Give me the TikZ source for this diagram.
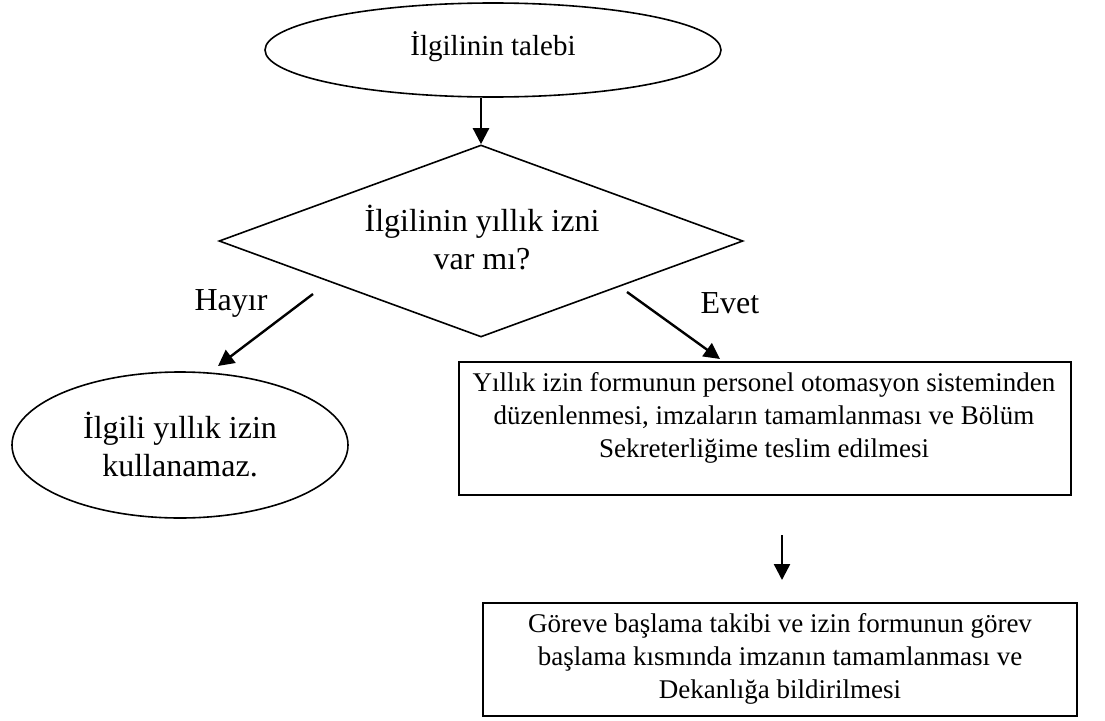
\documentclass[tikz,border=0pt]{standalone}
\usepackage{fontspec}
\setmainfont{Liberation Serif}
\usetikzlibrary{shapes.geometric,arrows.meta}
\begin{document}
\begin{tikzpicture}[x=1pt,y=-1pt,
  shp/.style={draw=black,line width=1.6pt,inner sep=0pt,align=center},
  boxshp/.style={draw=black,line width=2pt,inner sep=0pt},
  arr/.style={line width=2.4pt,-{Triangle[length=16pt,width=16pt]}},
  bigtxt/.style={font=\fontsize{32}{38}\selectfont},
  boxtxt/.style={font=\fontsize{27}{33}\selectfont,align=center,inner sep=0pt}]
\useasboundingbox (0,0) rectangle (1105,720);
\node[shp,ellipse,minimum width=456pt,minimum height=94pt] (start) at (493,50) {};
\node[inner sep=0pt,font=\fontsize{29}{35}\selectfont] (startt) at (493,47) {İlgilinin talebi};
\node[shp,diamond,shape aspect=2.73,minimum width=524pt,minimum height=192pt] (q) at (481,241) {};
\node[bigtxt,align=center,inner sep=0pt] (qt) at (482,238) {İlgilinin yıllık izni\\var mı?};
\node[shp,ellipse,minimum width=336pt,minimum height=146pt,bigtxt] (no) at (180,445) {İlgili yıllık izin\\kullanamaz.};
\node[boxshp,rectangle,minimum width=612pt,minimum height=133pt,anchor=north west] (box1) at (458,361) {};
\node[boxtxt,anchor=north] (t1) at (764,372) {Yıllık izin formunun personel otomasyon sisteminden\\düzenlenmesi, imzaların tamamlanması ve Bölüm\\Sekreterliğime teslim edilmesi};
\node[boxshp,rectangle,minimum width=594pt,minimum height=113pt,anchor=north west] (box2) at (482,602) {};
\node[boxtxt] (t2) at ([yshift=1pt]box2.center) {Göreve başlama takibi ve izin formunun görev\\başlama kısmında imzanın tamamlanması ve\\Dekanlığa bildirilmesi};
\node[bigtxt,inner sep=0pt] (hayir) at (231,303) {Hayır};
\node[bigtxt,inner sep=0pt] (evet) at (730,303) {Evet};
\coordinate (h1) at (313,294);
\coordinate (h2) at (218,366);
\coordinate (e1) at (627,292);
\coordinate (e2) at (720,359);
\coordinate (d1) at (782,535);
\coordinate (d2) at (782,580);
\draw[arr] (q.north |- start.south) -- (q.north);
\draw[arr] (h1) -- (h2);
\draw[arr] (e1) -- (e2);
\draw[arr] (d1) -- (d2);
\end{tikzpicture}
\end{document}
